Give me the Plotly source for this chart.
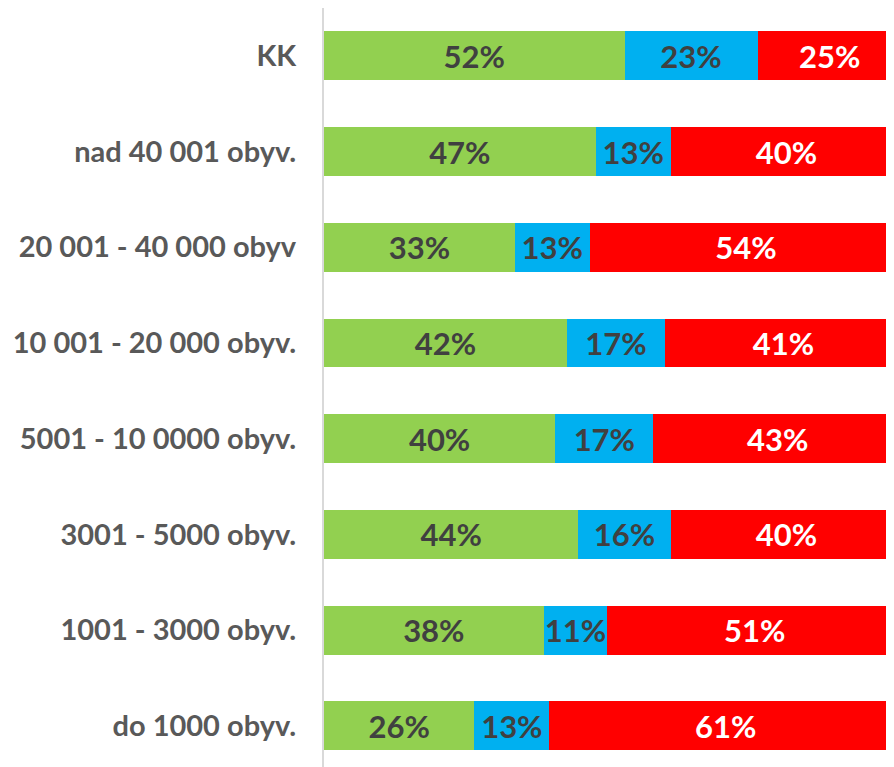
import plotly.graph_objects as go

# kategórie zhora nadol
kategorie = [
    "KK",
    "nad 40 001 obyv.",
    "20 001 - 40 000 obyv",
    "10 001 - 20 000 obyv.",
    "5001 - 10 0000 obyv.",
    "3001 - 5000 obyv.",
    "1001 - 3000 obyv.",
    "do 1000 obyv.",
]
zelena = [52, 47, 33, 42, 40, 44, 38, 26]
modra = [23, 13, 13, 17, 17, 16, 11, 13]
cervena = [25, 40, 54, 41, 43, 40, 51, 61]

FONT = "Lato"

serie = [
    ("zelená", zelena, "#92D050", "#404040"),
    ("modrá", modra, "#00B0F0", "#404040"),
    ("červená", cervena, "#FF0000", "#FFFFFF"),
]

fig = go.Figure()
for nazov, hodnoty, farba, farba_textu in serie:
    fig.add_trace(go.Bar(
        x=hodnoty,
        y=kategorie,
        name=nazov,
        orientation="h",
        marker_color=farba,
        marker_line_width=0,
        text=[f"{v}%" for v in hodnoty],
        textposition="inside",
        insidetextanchor="middle",
        textangle=0,
        constraintext="none",
        textfont=dict(family=FONT, size=31, color=farba_textu, weight="bold"),
    ))

# stránka má okraj 8 px, pravý koniec grafu je orezaný ako v origináli
fig.update_layout(
    barmode="stack",
    bargap=0.49,
    width=894,
    height=759,
    margin=dict(l=316, r=0, t=0, b=0),
    paper_bgcolor="white",
    plot_bgcolor="white",
    showlegend=False,
)
fig.update_xaxes(range=[0, 100], showgrid=False, showticklabels=False,
                 zeroline=False, fixedrange=True)
fig.update_yaxes(
    range=[7.43, -0.5],
    showline=True, linecolor="#D9D9D9", linewidth=2,
    showgrid=False, ticks="",
    ticklabelstandoff=20,
    tickfont=dict(family=FONT, size=29, color="#595959", weight="bold"),
)

fig.write_html("out.html")
